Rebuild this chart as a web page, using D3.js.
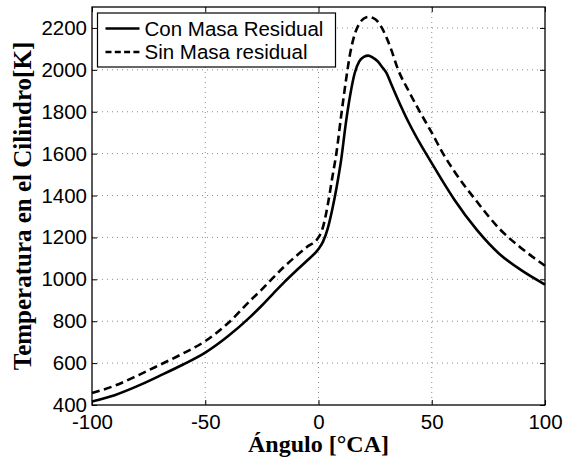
<!DOCTYPE html>
<html>
<head>
<meta charset="utf-8">
<script src="https://cdn.jsdelivr.net/npm/d3@7"></script>
<style>
  body { margin: 0; background: #fff; }
  svg { display: block; }
</style>
</head>
<body>
<div class="chart_area"></div>
<script>
// crank angle [deg CA]
var angles = [-100, -90, -80, -70, -60, -50, -40, -30, -25, -20, -15, -10, -5, 0,
  2, 4, 6, 8, 10, 12, 14, 16, 18, 20, 22, 24, 26, 28, 30, 32, 35,
  40, 45, 50, 55, 60, 70, 80, 90, 100];

// cylinder temperature [K], with residual mass
var tempCon = [417, 447, 490, 540, 592, 650, 728, 822, 875, 932, 988, 1040, 1090, 1145,
  1180, 1240, 1330, 1440, 1570, 1740, 1880, 1985, 2040, 2062, 2068, 2058, 2042, 2015, 1985, 1935, 1860,
  1745, 1645, 1555, 1465, 1380, 1235, 1120, 1040, 975];

// cylinder temperature [K], without residual mass
var tempSin = [457, 492, 540, 592, 645, 705, 790, 900, 952, 1008, 1062, 1110, 1155, 1200,
  1250, 1350, 1480, 1610, 1780, 1940, 2080, 2170, 2220, 2245, 2253, 2248, 2232, 2200, 2155, 2100, 2005,
  1895, 1795, 1700, 1600, 1515, 1370, 1240, 1145, 1065];

var xTicks = [-100, -50, 0, 50, 100];
var yTicks = [400, 600, 800, 1000, 1200, 1400, 1600, 1800, 2000, 2200];

var seriesNames = ["Con Masa Residual", "Sin Masa residual"];

var margin = {top: 7, right: 18, bottom: 53, left: 92},
    width = 563 - margin.left - margin.right,
    height = 458 - margin.top - margin.bottom;

var sansFont = "'Liberation Sans', Arial, Helvetica, sans-serif";
var serifFont = "'Liberation Serif', 'Times New Roman', Times, serif";

var svgRoot = d3.select(".chart_area")
  .append("svg")
  .attr("width", 563)
  .attr("height", 458);

var svg = svgRoot.append("g")
  .attr("transform", "translate(" + margin.left + "," + margin.top + ")");

var x = d3.scaleLinear().domain([-100, 100]).range([0, width]);
var y = d3.scaleLinear().domain([400, 2300]).range([height, 0]);

var plainNum = function(d) { return String(d); };

// grid (dotted)
svg.append("g")
  .selectAll("line")
  .data(xTicks.slice(1, -1))
  .enter()
  .append("line")
    .attr("x1", function(d) { return x(d); })
    .attr("x2", function(d) { return x(d); })
    .attr("y1", 0)
    .attr("y2", height)
    .style("stroke", "#8a8a8a")
    .style("stroke-width", 1)
    .style("stroke-dasharray", "1,4");

svg.append("g")
  .selectAll("line")
  .data(yTicks.slice(1))
  .enter()
  .append("line")
    .attr("x1", 0)
    .attr("x2", width)
    .attr("y1", function(d) { return y(d); })
    .attr("y2", function(d) { return y(d); })
    .style("stroke", "#8a8a8a")
    .style("stroke-width", 1)
    .style("stroke-dasharray", "1,4");

// axes, ticks inward
svg.append("g")
  .attr("transform", "translate(0," + height + ")")
  .call(d3.axisBottom(x).tickValues(xTicks).tickFormat(plainNum)
    .tickSizeInner(-5).tickSizeOuter(0).tickPadding(9));

svg.append("g")
  .call(d3.axisLeft(y).tickValues(yTicks).tickFormat(plainNum)
    .tickSizeInner(-5).tickSizeOuter(0).tickPadding(5));

svg.append("g")
  .call(d3.axisTop(x).tickValues(xTicks).tickSizeInner(-5).tickSizeOuter(0).tickFormat(""));

svg.append("g")
  .attr("transform", "translate(" + width + ",0)")
  .call(d3.axisRight(y).tickValues(yTicks).tickSizeInner(-5).tickSizeOuter(0).tickFormat(""));

svg.selectAll(".domain").remove();
svg.selectAll(".tick line").style("stroke", "#000").style("stroke-width", 1);
svg.selectAll(".tick text")
  .style("font-family", sansFont)
  .style("font-size", "20.5px")
  .style("fill", "#000");

// curves
var line = d3.line()
  .x(function(d) { return x(d[0]); })
  .y(function(d) { return y(d[1]); })
  .curve(d3.curveMonotoneX);

svg.append("path")
  .datum(d3.zip(angles, tempCon))
  .attr("d", line)
  .style("fill", "none")
  .style("stroke", "#000")
  .style("stroke-width", 2.6);

svg.append("path")
  .datum(d3.zip(angles, tempSin))
  .attr("d", line)
  .style("fill", "none")
  .style("stroke", "#000")
  .style("stroke-width", 2.6)
  .style("stroke-dasharray", "8,4.5");

// frame
svg.append("rect")
  .attr("x", 0)
  .attr("y", 0)
  .attr("width", width)
  .attr("height", height)
  .style("fill", "none")
  .style("stroke", "#000")
  .style("stroke-width", 1.3);

// legend
var legend = svg.append("g").attr("transform", "translate(5.5,6)");

legend.append("rect")
  .attr("width", 238)
  .attr("height", 54)
  .style("fill", "#fff")
  .style("stroke", "#000")
  .style("stroke-width", 1.2);

var rows = legend.selectAll(".row")
  .data(seriesNames)
  .enter()
  .append("g")
    .attr("transform", function(d, i) { return "translate(0," + (15.5 + i * 23.5) + ")"; });

rows.append("line")
  .attr("x1", 8)
  .attr("x2", 42)
  .style("stroke", "#000")
  .style("stroke-width", 2.6)
  .style("stroke-dasharray", function(d, i) { return i === 0 ? null : "6,3.3"; });

rows.append("text")
  .attr("x", 47)
  .attr("dy", "0.36em")
  .style("font-family", sansFont)
  .style("font-size", "20.5px")
  .text(function(d) { return d; });

// axis titles
svgRoot.append("text")
  .attr("x", margin.left + width / 2)
  .attr("y", 452)
  .attr("text-anchor", "middle")
  .style("font-family", serifFont)
  .style("font-weight", "bold")
  .style("font-size", "24px")
  .text("Ángulo [°CA]");

svgRoot.append("text")
  .attr("transform", "translate(31," + (margin.top + height / 2) + ") rotate(-90)")
  .attr("text-anchor", "middle")
  .style("font-family", serifFont)
  .style("font-weight", "bold")
  .style("font-size", "25px")
  .text("Temperatura en el Cilindro[K]");
</script>
</body>
</html>
